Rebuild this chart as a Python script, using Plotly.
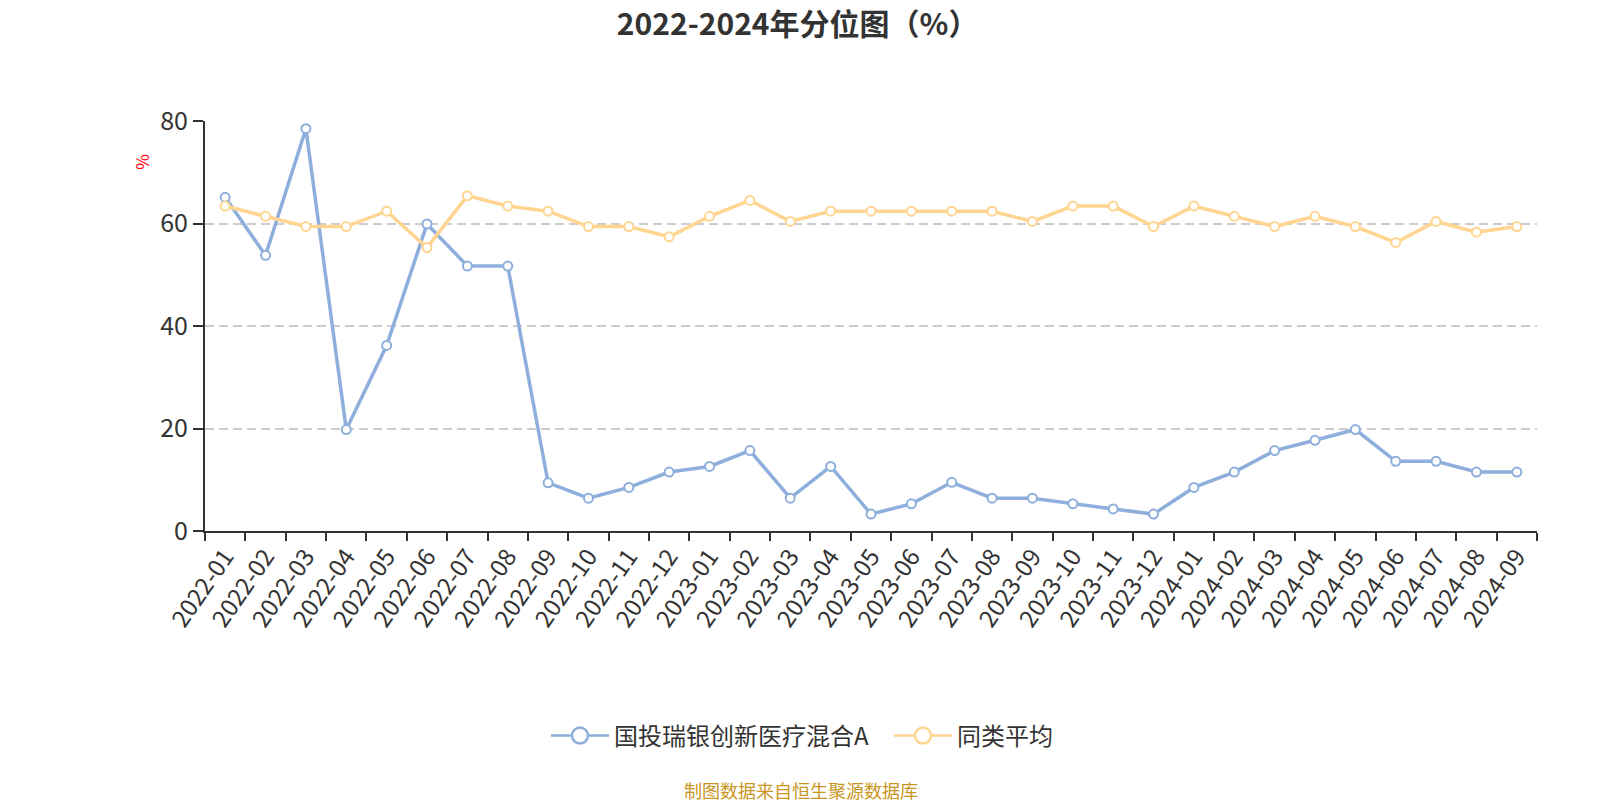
import plotly.graph_objects as go

categories = ["2022-01","2022-02","2022-03","2022-04","2022-05","2022-06","2022-07","2022-08","2022-09","2022-10","2022-11","2022-12",
              "2023-01","2023-02","2023-03","2023-04","2023-05","2023-06","2023-07","2023-08","2023-09","2023-10","2023-11","2023-12",
              "2024-01","2024-02","2024-03","2024-04","2024-05","2024-06","2024-07","2024-08","2024-09"]
fund_name = "国投瑞银创新医疗混合A"
fund_values = [65.1, 53.8, 78.5, 19.8, 36.2, 59.9, 51.7, 51.7, 9.4, 6.4, 8.5, 11.5,
               12.6, 15.7, 6.4, 12.6, 3.3, 5.3, 9.5, 6.4, 6.4, 5.3, 4.3, 3.3,
               8.5, 11.5, 15.7, 17.7, 19.8, 13.6, 13.6, 11.5, 11.5]
avg_name = "同类平均"
avg_values = [63.4, 61.4, 59.4, 59.4, 62.4, 55.3, 65.4, 63.4, 62.4, 59.4, 59.4, 57.4,
              61.4, 64.5, 60.4, 62.4, 62.4, 62.4, 62.4, 62.4, 60.4, 63.4, 63.4, 59.4,
              63.4, 61.4, 59.4, 61.4, 59.4, 56.3, 60.4, 58.3, 59.4]
y_ticks = [0, 20, 40, 60, 80]

BLUE = "#8eaedc"
ORANGE = "#ffd591"
FONT = "Noto Sans CJK SC"

fig = go.Figure()
for name, vals, col in [(fund_name, fund_values, BLUE), (avg_name, avg_values, ORANGE)]:
    fig.add_trace(go.Scatter(
        x=categories, y=vals, mode="lines+markers", name=name, showlegend=False,
        line=dict(color=col, width=3.5),
        marker=dict(symbol="circle", size=9, color="white", line=dict(color=col, width=2)),
    ))
for name, col in [(fund_name, BLUE), (avg_name, ORANGE)]:
    fig.add_trace(go.Scatter(
        x=[None], y=[None], mode="lines+markers", name=name, showlegend=True,
        line=dict(color=col, width=2.5),
        marker=dict(symbol="circle", size=22, color="white", line=dict(color=col, width=2.5)),
    ))

fig.update_layout(
    width=1592, height=792, autosize=False,
    paper_bgcolor="white", plot_bgcolor="white",
    margin=dict(l=197, r=63, t=113, b=269, autoexpand=False),
    font=dict(family=FONT, color="#333"),
    title=dict(text="<b>2022-2024年分位图（%）</b>", x=0.496, xanchor="center", y=0.979, yanchor="middle",
               font=dict(size=30, color="#333", family=FONT)),
    xaxis=dict(type="category", categoryorder="array", categoryarray=categories,
               tickson="boundaries", ticks="outside", ticklen=8, tickwidth=2, tickcolor="#333",
               showline=True, linecolor="#333", linewidth=2, showgrid=False,
               tickangle=-55, tickfont=dict(size=24, color="#333", family=FONT),
               range=[-0.5, len(categories) - 0.5], fixedrange=True, automargin=False),
    yaxis=dict(range=[0, 80], tickvals=y_ticks, ticks="outside", ticklen=10, tickwidth=2, tickcolor="#333",
               showline=True, linecolor="#333", linewidth=2,
               showgrid=True, gridcolor="#cccccc", griddash="9px,5px", gridwidth=1.5,
               zeroline=False, tickfont=dict(size=25, color="#333", family=FONT), fixedrange=True,
               automargin=False),
    legend=dict(orientation="h", x=0.256, xanchor="left", y=-0.5, yanchor="middle",
                font=dict(size=24, color="#333", family=FONT), itemwidth=58, itemsizing="trace",
                entrywidth=270, entrywidthmode="pixels"),
    showlegend=True,
)
fig.add_annotation(text="%", xref="paper", yref="paper", x=-0.0473, y=0.9005, textangle=-90,
                   xanchor="center", yanchor="middle",
                   showarrow=False, font=dict(size=17, color="red", family=FONT))
fig.add_annotation(text="制图数据来自恒生聚源数据库", xref="paper", yref="paper", x=0.4474, y=-0.631,
                   xanchor="center", yanchor="middle", showarrow=False,
                   font=dict(size=18, color="#c8961e", family=FONT))

fig.write_html("out.html")
